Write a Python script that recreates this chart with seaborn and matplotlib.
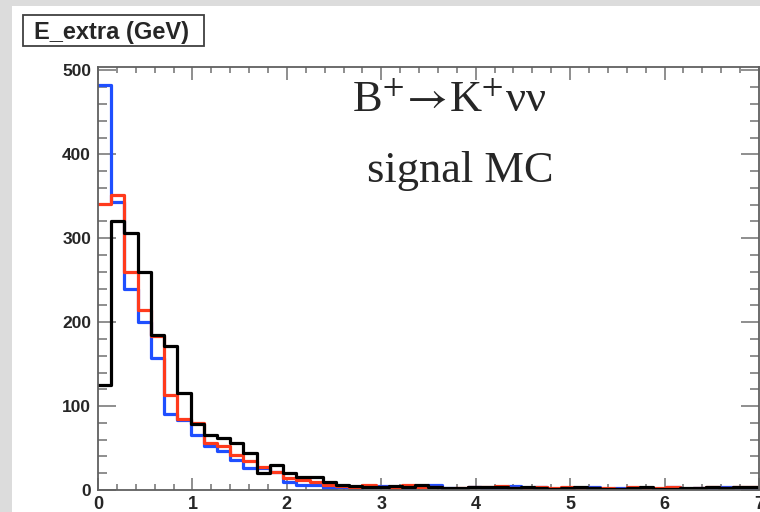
import numpy as np
import pandas as pd
import seaborn as sns
import matplotlib.pyplot as plt
from matplotlib.patches import Rectangle
from matplotlib.ticker import MultipleLocator

# E_extra histograms, 50 bins from 0 to 7 GeV
x_min, x_max, n_bins = 0.0, 7.0, 50

blue_counts = [482, 343, 239, 200, 157, 91, 83, 66, 52, 46, 36, 26, 26, 22, 10, 6, 6, 2,
               3, 2, 4, 5, 3, 2, 4, 6, 2, 1, 3, 2, 1, 5, 2, 3, 1, 2, 2, 4, 1, 2, 1, 2,
               1, 3, 1, 2, 2, 4, 1, 2]
red_counts = [341, 352, 260, 214, 183, 113, 85, 80, 56, 52, 42, 34, 28, 22, 14, 12, 10, 6,
              5, 4, 6, 3, 2, 6, 4, 3, 1, 2, 4, 3, 5, 2, 1, 3, 2, 4, 1, 2, 2, 1, 3, 1,
              2, 3, 1, 2, 4, 2, 3, 3]
black_counts = [125, 320, 306, 260, 185, 172, 116, 79, 66, 62, 56, 44, 20, 30, 20, 15, 15, 9,
                6, 5, 4, 4, 5, 4, 6, 3, 2, 2, 3, 4, 3, 2, 3, 2, 1, 2, 3, 2, 1, 1, 2, 3,
                1, 1, 2, 2, 3, 2, 3, 4]

y_ticks = [0, 100, 200, 300, 400, 500]
x_ticks = [0, 1, 2, 3, 4, 5, 6, 7]

edges = np.linspace(x_min, x_max, n_bins + 1)
centers = 0.5 * (edges[:-1] + edges[1:])

sns.set_style('ticks')
plt.rcParams['font.family'] = ['Liberation Sans', 'DejaVu Sans']

fig = plt.figure(figsize=(7.6, 5.12), dpi=100)
ax = fig.add_axes([98 / 760, 22 / 512, 661 / 760, 423 / 512])

for counts, color in [(blue_counts, '#1f4fff'), (red_counts, '#ff3a1c'), (black_counts, 'black')]:
    df = pd.DataFrame({'E': centers, 'w': counts})
    sns.histplot(data=df, x='E', weights='w', bins=list(edges), element='step', fill=False,
                 color=color, linewidth=2.3, ax=ax)

ax.set_xlim(x_min, x_max)
ax.set_ylim(0, 504)
ax.set_xticks(x_ticks)
ax.set_yticks(y_ticks)
ax.xaxis.set_minor_locator(MultipleLocator(0.2))
ax.yaxis.set_minor_locator(MultipleLocator(20))
ax.set_xlabel('')
ax.set_ylabel('')

for s in ax.spines.values():
    s.set_visible(True)
    s.set_color('#606060')
    s.set_linewidth(1.3)

ax.tick_params(which='both', direction='in', top=True, right=True, color='#707070', width=1.1)
ax.tick_params(axis='y', which='major', length=13, pad=5)
ax.tick_params(axis='y', which='minor', length=6.5)
ax.tick_params(axis='x', which='major', length=9, pad=4)
ax.tick_params(axis='x', which='minor', length=4.5)
for lab in ax.get_yticklabels():
    lab.set_fontweight('bold')
    lab.set_fontsize(12.5)
for lab in ax.get_xticklabels():
    lab.set_fontweight('bold')
    lab.set_fontsize(13)

serif = ['Liberation Serif', 'DejaVu Serif']
ax.text(0.531, 0.894, 'B$^{+}$$\\!\\rightarrow\\!$K$^{+}$\u03bd\u03bd', transform=ax.transAxes,
        ha='center', va='baseline', fontsize=32, family=serif, math_fontfamily='stix')
ax.text(0.548, 0.729, 'signal MC', transform=ax.transAxes,
        ha='center', va='baseline', fontsize=32, family=serif)

# gray slide border strips
fig.patches.append(Rectangle((0, 1 - 6 / 512), 1, 6 / 512, transform=fig.transFigure,
                             facecolor='#dcdcdc', edgecolor='none', zorder=0))
fig.patches.append(Rectangle((0, 0), 12 / 760, 1, transform=fig.transFigure,
                             facecolor='#dcdcdc', edgecolor='none', zorder=0))

# title box
fig.patches.append(Rectangle((23 / 760, 1 - 46 / 512), 181 / 760, 31 / 512, transform=fig.transFigure,
                             facecolor='white', edgecolor='#404040', linewidth=1.3, zorder=1))
fig.text(34 / 760, 1 - 39 / 512, 'E_extra (GeV)', fontsize=17, fontweight='bold',
         va='baseline', ha='left', zorder=2)

fig.savefig('out.png', dpi=100)
